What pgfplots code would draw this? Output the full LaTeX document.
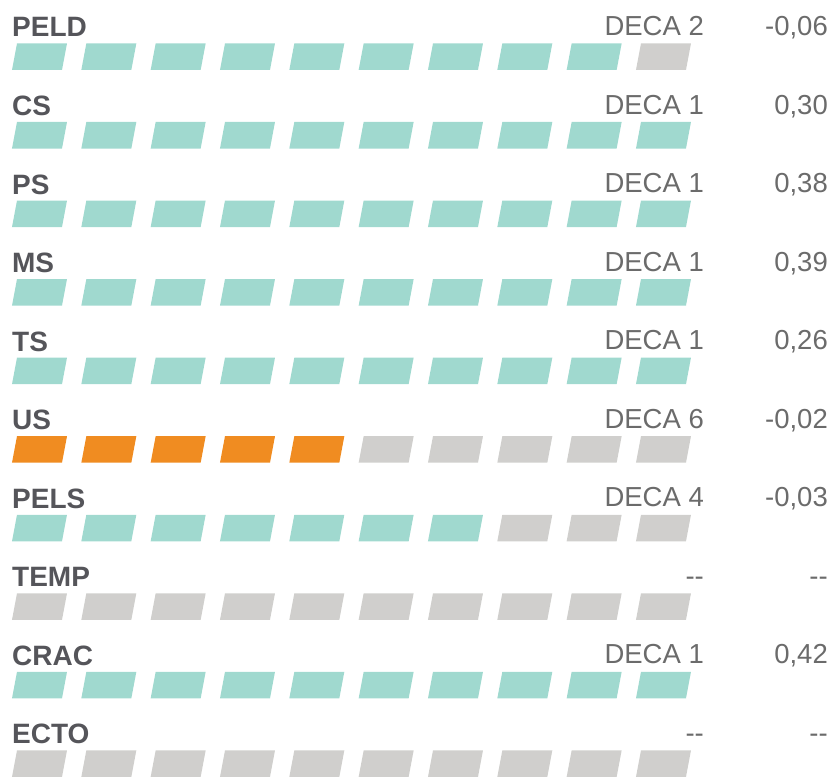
\documentclass[border=0pt]{standalone}
\usepackage{fontspec}
\setmainfont{Liberation Sans}
\usepackage{pgfplots}
\pgfplotsset{compat=1.18}
\definecolor{cteal}{HTML}{A0D9CF}
\definecolor{cgrey}{HTML}{D0CFCD}
\definecolor{corange}{HTML}{F08C21}
\definecolor{clabel}{HTML}{55555A}
\definecolor{ctext}{HTML}{6B6B6B}
\pgfdeclareplotmark{para}{%
 \pgfpathmoveto{\pgfqpoint{-27.5pt}{-13.25pt}}%
 \pgfpathlineto{\pgfqpoint{22.5pt}{-13.25pt}}%
 \pgfpathlineto{\pgfqpoint{27.5pt}{13.25pt}}%
 \pgfpathlineto{\pgfqpoint{-22.5pt}{13.25pt}}%
 \pgfpathclose
 \pgfusepathqfill}
\newcommand{\lab}[2]{\node[anchor=base west,inner sep=0pt,text=clabel,font=\fontsize{28}{30}\selectfont\bfseries] at (axis cs:-0.397,#1-0.251) {#2};}
\newcommand{\deca}[2]{\node[anchor=base east,inner sep=0pt,text=ctext,font=\fontsize{27.5}{30}\selectfont] at (axis cs:9.585,#1-0.27) {#2};}
\newcommand{\val}[2]{\node[anchor=base east,inner sep=0pt,text=ctext,font=\fontsize{27.5}{30}\selectfont] at (axis cs:11.373,#1-0.27) {#2};}
\newcommand{\dd}{-{}-}
\begin{document}
\begin{tikzpicture}
\begin{axis}[
  hide axis, clip=false,
  x=69.33pt, y=78.55pt, y dir=reverse,
  xmin=-0.5697, xmax=11.474, ymin=-0.7218, ymax=9.183,
  only marks, mark=para,
]
\path (axis cs:-0.5697,-0.7218) rectangle (axis cs:11.474,9.183);
% teal segments
\addplot[cteal, mark=para] coordinates {
 (0,0) (1,0) (2,0) (3,0) (4,0) (5,0) (6,0) (7,0) (8,0)
 (0,1) (1,1) (2,1) (3,1) (4,1) (5,1) (6,1) (7,1) (8,1) (9,1)
 (0,2) (1,2) (2,2) (3,2) (4,2) (5,2) (6,2) (7,2) (8,2) (9,2)
 (0,3) (1,3) (2,3) (3,3) (4,3) (5,3) (6,3) (7,3) (8,3) (9,3)
 (0,4) (1,4) (2,4) (3,4) (4,4) (5,4) (6,4) (7,4) (8,4) (9,4)
 (0,6) (1,6) (2,6) (3,6) (4,6) (5,6) (6,6)
 (0,8) (1,8) (2,8) (3,8) (4,8) (5,8) (6,8) (7,8) (8,8) (9,8)
};
% orange segments
\addplot[corange, mark=para] coordinates {
 (0,5) (1,5) (2,5) (3,5) (4,5)
};
% grey segments
\addplot[cgrey, mark=para] coordinates {
 (9,0)
 (5,5) (6,5) (7,5) (8,5) (9,5)
 (7,6) (8,6) (9,6)
 (0,7) (1,7) (2,7) (3,7) (4,7) (5,7) (6,7) (7,7) (8,7) (9,7)
 (0,9) (1,9) (2,9) (3,9) (4,9) (5,9) (6,9) (7,9) (8,9) (9,9)
};
\lab{0}{PELD} \deca{0}{DECA 2} \val{0}{-0,06}
\lab{1}{CS}   \deca{1}{DECA 1} \val{1}{0,30}
\lab{2}{PS}   \deca{2}{DECA 1} \val{2}{0,38}
\lab{3}{MS}   \deca{3}{DECA 1} \val{3}{0,39}
\lab{4}{TS}   \deca{4}{DECA 1} \val{4}{0,26}
\lab{5}{US}   \deca{5}{DECA 6} \val{5}{-0,02}
\lab{6}{PELS} \deca{6}{DECA 4} \val{6}{-0,03}
\lab{7}{TEMP} \deca{7}{\dd}    \val{7}{\dd}
\lab{8}{CRAC} \deca{8}{DECA 1} \val{8}{0,42}
\lab{9}{ECTO} \deca{9}{\dd}    \val{9}{\dd}
\end{axis}
\end{tikzpicture}
\end{document}
